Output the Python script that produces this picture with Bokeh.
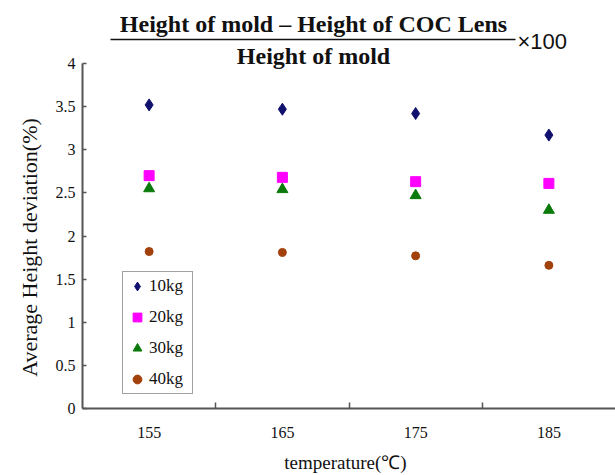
import math
from bokeh.plotting import figure
from bokeh.models import FixedTicker, Label, Legend, LegendItem, ColumnDataSource
from bokeh.embed import file_html
from bokeh.resources import INLINE

temperatures = ["155", "165", "175", "185"]
series_names = ["10kg", "20kg", "30kg", "40kg"]
kg10 = [3.52, 3.47, 3.42, 3.17]
kg20 = [2.70, 2.68, 2.63, 2.61]
kg30 = [2.55, 2.54, 2.47, 2.30]
kg40 = [1.82, 1.81, 1.77, 1.66]
y_ticks = [0, 0.5, 1, 1.5, 2, 2.5, 3, 3.5, 4]

SERIF = "Liberation Serif"
xpos = [i + 0.5 for i in range(len(temperatures))]

# whole canvas is the frame; axes sit at fixed data locations
PX_X = 133.25   # px per category
PX_Y = 86.25    # px per unit
X0, Y0 = 82, 408  # page px of data origin
W, H = 615, 475


def xpx(page_x):
    return (page_x - X0) / PX_X


def ypx(page_y):
    return (Y0 - page_y) / PX_Y


p = figure(width=W, height=H, x_range=(xpx(0), xpx(W)), y_range=(ypx(H), ypx(0)),
           output_backend="svg", toolbar_location=None,
           min_border_left=0, min_border_right=0, min_border_top=0, min_border_bottom=0)
p.outline_line_color = None
p.xgrid.visible = False
p.ygrid.visible = False
p.background_fill_color = "white"
p.border_fill_color = "white"

# x axis
p.xaxis.fixed_location = 0
p.xaxis.bounds = (0, 4)
p.xaxis.ticker = FixedTicker(ticks=xpos, minor_ticks=[1, 2, 3])
p.xaxis.major_label_overrides = {x: t for x, t in zip(xpos, temperatures)}
p.xaxis.major_tick_in = 0
p.xaxis.major_tick_out = 0
p.xaxis.minor_tick_in = 6
p.xaxis.minor_tick_out = 0
p.xaxis.minor_tick_line_color = "#555555"
p.xaxis.minor_tick_line_width = 1.5
p.xaxis.major_label_standoff = 18
p.xaxis.major_label_text_font = SERIF
p.xaxis.major_label_text_font_size = "16px"
p.xaxis.major_label_text_color = "#111111"
p.xaxis.axis_line_color = "#555555"
p.xaxis.axis_line_width = 2

# y axis
p.yaxis.fixed_location = 0
p.yaxis.bounds = (0, 4)
p.yaxis.ticker = FixedTicker(ticks=y_ticks)
p.yaxis.major_label_overrides = {t: ("%g" % t) for t in y_ticks}
p.yaxis.major_tick_in = 4
p.yaxis.major_tick_out = 0
p.yaxis.minor_tick_line_color = None
p.yaxis.major_tick_line_color = "#555555"
p.yaxis.major_tick_line_width = 1.5
p.yaxis.major_label_standoff = 7
p.yaxis.major_label_text_font = SERIF
p.yaxis.major_label_text_font_size = "16px"
p.yaxis.major_label_text_color = "#111111"
p.yaxis.axis_line_color = "#555555"
p.yaxis.axis_line_width = 2

r1 = p.scatter(xpos, kg10, marker="diamond", size=12, fill_color="#10106e", line_color="#10106e")
r2 = p.scatter(xpos, kg20, marker="square", size=10, fill_color="#ff00ff", line_color="#ff00ff")
r3 = p.scatter(xpos, kg30, marker="triangle", size=11, fill_color="#0a7a0a", line_color="#0a7a0a")
r4 = p.scatter(xpos, kg40, marker="circle", size=8, fill_color="#a3410d", line_color="#a3410d")

legend = Legend(items=[LegendItem(label=n, renderers=[r]) for n, r in zip(series_names, [r1, r2, r3, r4])],
                location=(122, H - 394), orientation="vertical")
legend.label_text_font = SERIF
legend.label_text_font_size = "17px"
legend.label_text_color = "#111111"
legend.glyph_width = 22
legend.glyph_height = 22
legend.label_height = 22
legend.spacing = 9
legend.padding = 3
legend.margin = 0
legend.label_standoff = 1
legend.label_width = 40
legend.border_line_color = "#444444"
legend.border_line_width = 1.5
legend.background_fill_color = "white"
legend.background_fill_alpha = 1
p.add_layout(legend, "center")

# axis titles
ylab = Label(x=xpx(29), y=ypx(247), text="Average Height deviation(%)", angle=math.pi / 2,
             text_font=SERIF, text_font_size="22px", text_align="center", text_baseline="middle",
             text_color="#111111")
xlab = Label(x=xpx(345), y=ypx(462), text="temperature(\u2103)",
             text_font=SERIF, text_font_size="19px", text_align="center", text_baseline="middle",
             text_color="#111111")

# formula title
num = Label(x=xpx(313), y=ypx(23), text="Height of mold \u2013 Height of COC Lens",
            text_font=SERIF, text_font_style="bold", text_font_size="24px",
            text_align="center", text_baseline="middle", text_color="#111111")
den = Label(x=xpx(313), y=ypx(55), text="Height of mold",
            text_font=SERIF, text_font_style="bold", text_font_size="24px",
            text_align="center", text_baseline="middle", text_color="#111111")
times = Label(x=xpx(517), y=ypx(41), text="\u00d7100",
              text_font="Liberation Sans", text_font_size="22px",
              text_align="left", text_baseline="middle", text_color="#111111")
for lab in (ylab, xlab, num, den, times):
    p.add_layout(lab)

frac = ColumnDataSource(dict(x0=[xpx(110)], x1=[xpx(515)], y0=[ypx(39)], y1=[ypx(39)]))
p.segment(x0="x0", y0="y0", x1="x1", y1="y1", source=frac, line_color="#111111", line_width=1.5)

open("out.html", "w").write(file_html(p, INLINE))
